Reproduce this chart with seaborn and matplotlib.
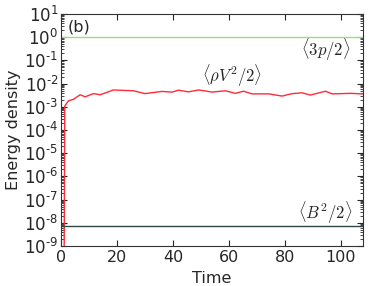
import matplotlib as mpl
import matplotlib.pyplot as plt
import numpy as np
import pandas as pd
import seaborn as sns

# kinetic energy <rho V^2/2> vs time
kin_time = [1.0, 1.3, 2.6, 4.4, 6.8, 8.6, 11.6, 14.0, 18.7, 25.9, 30.0, 36.0, 39.7,
            42.0, 45.6, 49.2, 51.6, 54.0, 58.8, 62.4, 65.3, 68.3, 74.3, 79.1,
            82.7, 86.3, 89.2, 94.6, 97.0, 103.6, 108.0]
kin_value = [1e-12, 1.07e-3, 1.8e-3, 2.1e-3, 3.3e-3, 2.7e-3, 3.7e-3, 3.3e-3, 5.3e-3,
             4.9e-3, 3.7e-3, 4.6e-3, 4.3e-3, 5.2e-3, 4.4e-3, 5.3e-3, 4.8e-3,
             4.3e-3, 4.9e-3, 3.8e-3, 4.7e-3, 3.6e-3, 3.6e-3, 2.9e-3, 3.7e-3,
             4.0e-3, 3.2e-3, 4.7e-3, 3.6e-3, 3.8e-3, 3.6e-3]
# thermal <3p/2> and magnetic <B^2/2> are flat
flat_time = [0.0, 108.0]
therm_value = [1.0, 1.0]
mag_value = [7.3e-9, 7.3e-9]

sns.set_style("ticks", {"xtick.direction": "in", "ytick.direction": "in",
                        "axes.edgecolor": "#333333"})
plt.rcParams["font.family"] = ["DejaVu Sans"]
plt.rcParams["font.size"] = 11.5
plt.rcParams["xtick.top"] = True
plt.rcParams["ytick.right"] = True

df = pd.concat([
    pd.DataFrame({"Time": flat_time, "E": therm_value, "q": "therm"}),
    pd.DataFrame({"Time": kin_time, "E": kin_value, "q": "kin"}),
    pd.DataFrame({"Time": flat_time, "E": mag_value, "q": "mag"}),
])

fig = plt.figure(figsize=(3.82, 2.86), dpi=100)
ax = fig.add_axes([0.160, 0.140, 0.790, 0.811])
sns.lineplot(data=df, x="Time", y="E", hue="q",
             palette={"therm": "#98e07a", "kin": "#ff2a3a", "mag": "#2f4646"},
             linewidth=1.0, legend=False, ax=ax, estimator=None, sort=False)
ax.set_yscale("log")
ax.set_ylim(1e-9, 1e1)
ax.set_xlim(0, 108)
ax.set_xticks([0, 20, 40, 60, 80, 100])
ax.yaxis.set_major_locator(mpl.ticker.LogLocator(base=10, numticks=20))
ax.yaxis.set_minor_locator(mpl.ticker.LogLocator(base=10, subs=np.arange(2, 10), numticks=20))
ax.yaxis.set_minor_formatter(mpl.ticker.NullFormatter())
# old-style exponent labels: hyphen instead of a wide minus sign
ax.yaxis.set_major_formatter(mpl.ticker.FuncFormatter(
    lambda v, pos: r"$10^{\text{%d}}$" % round(np.log10(v))))
ax.tick_params(length=4, width=0.8, pad=2)
ax.tick_params(axis="x", labelsize=11.5, pad=3)
ax.tick_params(axis="y", labelsize=12)
ax.tick_params(which="minor", length=2)
ax.set_xlabel("Time", fontsize=11.5, labelpad=4)
ax.set_ylabel("Energy density", fontsize=11.5, labelpad=2)

ax.text(0.02, 0.975, "(b)", transform=ax.transAxes, va="top", ha="left", fontsize=11.5)
ax.text(94.6, 0.28, r"$\langle 3p/2 \rangle$", math_fontfamily="cm",
        ha="center", va="center", fontsize=12)
ax.text(61.2, 0.021, r"$\langle \rho V^2/2 \rangle$", math_fontfamily="cm",
        ha="center", va="center", fontsize=12)
ax.text(94.6, 2.7e-8, r"$\langle B^2/2 \rangle$", math_fontfamily="cm",
        ha="center", va="center", fontsize=12)

fig.savefig("out.png", dpi=100)
